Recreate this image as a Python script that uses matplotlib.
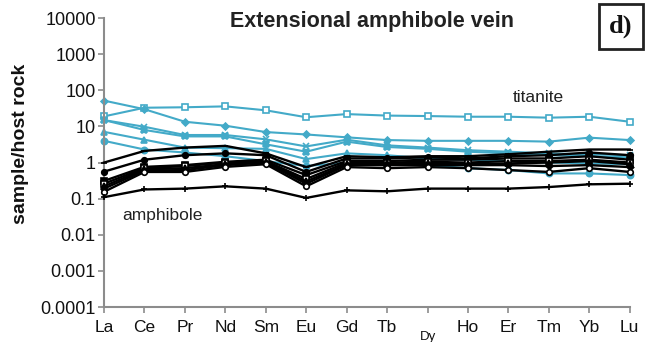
import matplotlib
matplotlib.use("Agg")
import matplotlib.pyplot as plt
from matplotlib.patches import Rectangle

plt.rcParams['font.family'] = ['Liberation Sans', 'DejaVu Sans']

elements = ["La", "Ce", "Pr", "Nd", "Sm", "Eu", "Gd", "Tb", "Dy", "Ho", "Er", "Tm", "Yb", "Lu"]
y_ticks = [0.0001, 0.001, 0.01, 0.1, 1, 10, 100, 1000, 10000]
y_tick_labels = ["0.0001", "0.001", "0.01", "0.1", "1", "10", "100", "1000", "10000"]

# titanite analyses (normalised to host rock)
tit_a = [19, 33, 34, 36, 28, 18, 22, 20, 19.4, 18.6, 18.6, 17.5, 18.6, 13.5]
tit_b = [52, 30, 13.5, 10.5, 7.0, 6.0, 5.0, 4.2, 4.0, 4.0, 4.0, 3.8, 4.9, 4.2]
tit_c = [15, 9.8, 5.8, 5.8, 4.4, 2.8, 4.3, 3.0, 2.6, 2.2, 2.0, 1.8, 1.7, 1.6]
tit_d = [15, 8.0, 5.3, 5.3, 3.2, 2.0, 3.8, 2.7, 2.4, 2.0, 1.8, 1.6, 1.5, 1.4]
tit_e = [7.1, 4.3, 2.6, 2.5, 2.4, 1.25, 1.8, 1.6, 1.3, 1.2, 1.1, 1.0, 0.95, 0.9]
tit_f = [4.0, 2.3, 1.9, 1.5, 1.1, 0.8, 1.0, 0.9, 0.85, 0.7, 0.62, 0.5, 0.5, 0.45]

# amphibole analyses (normalised to host rock)
amp_a = [1.0, 2.1, 2.6, 2.9, 1.8, 0.75, 1.5, 1.4, 1.5, 1.5, 1.7, 2.0, 2.3, 2.3]
amp_b = [0.56, 1.2, 1.6, 1.8, 1.6, 0.55, 1.3, 1.3, 1.4, 1.3, 1.5, 1.6, 1.9, 1.6]
amp_c = [0.31, 0.76, 0.85, 1.05, 1.2, 0.45, 1.1, 1.1, 1.2, 1.2, 1.3, 1.3, 1.5, 1.2]
amp_d = [0.26, 0.7, 0.8, 1.0, 1.1, 0.35, 1.0, 1.0, 1.05, 1.0, 1.1, 1.1, 1.2, 1.0]
amp_e = [0.22, 0.65, 0.7, 0.9, 1.05, 0.3, 0.9, 0.95, 0.95, 0.9, 0.95, 1.0, 1.1, 0.9]
amp_f = [0.19, 0.6, 0.62, 0.85, 1.0, 0.26, 0.85, 0.85, 0.85, 0.85, 0.85, 0.8, 0.85, 0.75]
amp_g = [0.155, 0.55, 0.55, 0.76, 0.9, 0.22, 0.75, 0.7, 0.75, 0.7, 0.62, 0.55, 0.7, 0.55]
amp_h = [0.11, 0.18, 0.19, 0.22, 0.19, 0.105, 0.17, 0.16, 0.19, 0.19, 0.19, 0.21, 0.25, 0.26]

BLUE = "#43aac8"
AXIS_GREY = "#8c8c8c"

fig = plt.figure(figsize=(6.56, 3.42), dpi=100)
ax = fig.add_axes([0.1585, 0.1023, 0.8015, 0.8447])

x = list(range(len(elements)))

titanite = [
    (tit_a, "s", "white"),
    (tit_b, "D", BLUE),
    (tit_c, "x", BLUE),
    (tit_d, "X", BLUE),
    (tit_e, "^", BLUE),
    (tit_f, "o", BLUE),
]
for vals, mk, fc in titanite:
    ax.plot(x, vals, color=BLUE, lw=1.5, marker=mk, ms=4.5 if mk != "D" else 3.5,
            mfc=fc, mec=BLUE, mew=1.2, clip_on=False, zorder=2)

amphibole = [
    (amp_a, "_"),
    (amp_b, "o"),
    (amp_c, "s"),
    (amp_d, "s"),
    (amp_e, "^"),
    (amp_f, "D"),
    (amp_g, "o"),
    (amp_h, "+"),
]
for i, (vals, mk) in enumerate(amphibole):
    fc = "white" if i in (3, 6) else "black"
    ax.plot(x, vals, color="black", lw=1.7, marker=mk, ms=4.0 if mk != "D" else 3.2,
            mfc=fc, mec="black", mew=1.2, clip_on=False, zorder=3)

ax.set_yscale("log")
ax.set_ylim(1e-4, 1e4)
ax.set_xlim(0, len(elements) - 1)
ax.set_yticks(y_ticks)
ax.set_yticklabels(y_tick_labels)
ax.yaxis.set_minor_locator(matplotlib.ticker.NullLocator())
ax.set_xticks(x)
ax.set_xticklabels(elements)

for side in ("top", "right"):
    ax.spines[side].set_visible(False)
for side in ("left", "bottom"):
    ax.spines[side].set_color(AXIS_GREY)
    ax.spines[side].set_linewidth(1.5)
ax.tick_params(axis="both", colors=AXIS_GREY, length=4, width=1.2, labelcolor="#111111")
ax.tick_params(axis="y", labelsize=13, pad=2)
ax.tick_params(axis="x", labelsize=12.5, pad=5)

# the Dy label sits lower and smaller
for lbl in ax.get_xticklabels():
    if lbl.get_text() == "Dy":
        lbl.set_fontsize(9.5)
        lbl.set_y(-0.04)

fig.text(0.032, 0.58, "sample/host rock", rotation=90, ha="center", va="center",
         fontsize=14, fontweight="bold", color="#111111")

fig.text(0.567, 0.938, "Extensional amphibole vein", ha="center", va="center",
         fontsize=15.5, fontweight="bold", color="#222222")
fig.text(0.82, 0.715, "titanite", ha="center", va="center", fontsize=12.5, color="#222222")
fig.text(0.248, 0.37, "amphibole", ha="center", va="center", fontsize=12.5, color="#222222")

fig.patches.append(Rectangle((0.913, 0.857), 0.067, 0.132, transform=fig.transFigure,
                             fill=False, ec="#222222", lw=2))
fig.text(0.9465, 0.922, "d)", ha="center", va="center", fontsize=19, fontweight="bold",
         family=["Liberation Serif", "DejaVu Serif"], color="#111111")

fig.savefig("out.png", dpi=100)
